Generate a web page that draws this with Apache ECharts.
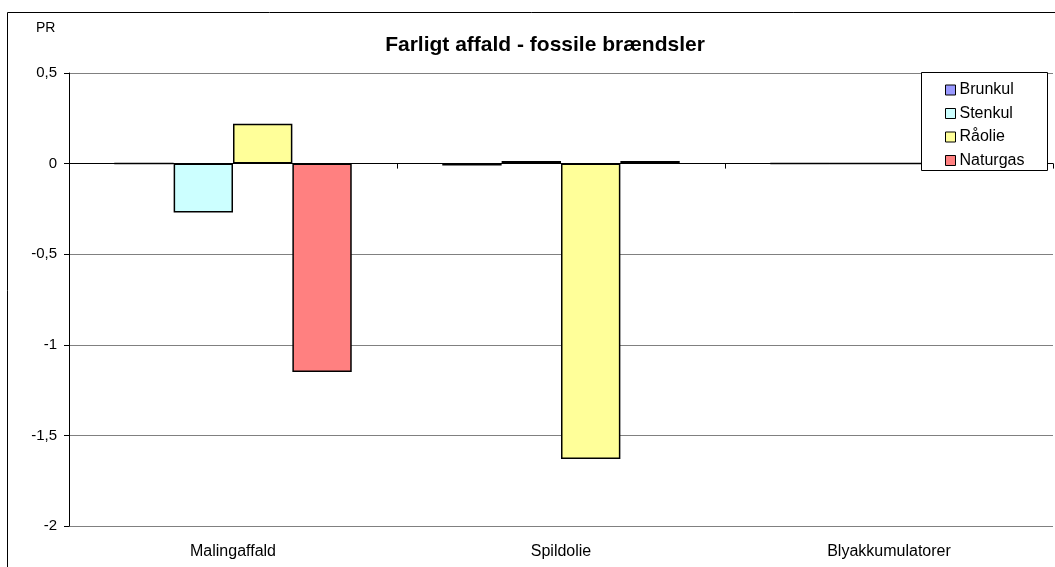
<!DOCTYPE html>
<html><head><meta charset="utf-8">
<script src="https://cdn.jsdelivr.net/npm/echarts@6/dist/echarts.min.js"></script>
<style>html,body{margin:0;padding:0;background:#fff}#c{width:1055px;height:567px}</style>
</head><body><div id="c"></div>
<script>
const categories = ['Malingaffald', 'Spildolie', 'Blyakkumulatorer'];
const seriesNames = ['Brunkul', 'Stenkul', 'Råolie', 'Naturgas'];
const brunkul = [0, -0.01, 0];
const stenkul = [-0.27, 0.015, 0];
const raolie = [0.22, -1.63, 0];
const naturgas = [-1.15, 0.015, 0];
const colors = ['#9999FF', '#CCFFFF', '#FFFF99', '#FF8080'];
const titleText = 'Farligt affald - fossile brændsler';
const yUnit = 'PR';

const font = 'Liberation Sans, Arial, sans-serif';
const values = [brunkul, stenkul, raolie, naturgas];
const chart = echarts.init(document.getElementById('c'));
chart.setOption({
  animation: false,
  title: { text: titleText, left: 540, top: 30, textAlign: 'center', z: 10,
    textStyle: { fontFamily: font, fontSize: 21, fontWeight: 'bold', color: '#000' } },
  legend: { orient: 'vertical', left: 940, top: 77, itemWidth: 10, itemHeight: 10, itemGap: 7.5,
    icon: 'rect', data: seriesNames, z: 60,
    itemStyle: { borderColor: '#000', borderWidth: 1 },
    textStyle: { fontFamily: font, fontSize: 16, color: '#000', lineHeight: 16, padding: [0,0,0,-1] } },
  graphic: [
    { type: 'rect', shape: { x: 7.5, y: 12.5, width: 1100, height: 600 }, style: { fill: null, stroke: '#000', lineWidth: 1 }, z: 100 },
    { type: 'rect', shape: { x: 921.5, y: 72.5, width: 126, height: 98 }, style: { fill: '#fff', stroke: '#000', lineWidth: 1 }, z: 50 },
    { type: 'text', left: 36, top: 21, style: { text: yUnit, font: '14px ' + font, fill: '#000' } }
  ],
  grid: { left: 69, right: 2, top: 73, bottom: 41, containLabel: false },
  xAxis: [
    { type: 'category', data: categories, position: 'bottom',
      axisLine: { show: false }, axisTick: { show: false },
      axisLabel: { fontFamily: font, fontSize: 16, color: '#000', margin: 18 } },
    { type: 'category', data: categories, position: 'bottom',
      axisLine: { show: true, onZero: true, onZeroAxisIndex: 0, lineStyle: { color: '#000', width: 1 } },
      axisTick: { show: true, length: 5, lineStyle: { color: '#000' } },
      axisLabel: { show: false } }
  ],
  yAxis: { type: 'value', min: -2, max: 0.5, interval: 0.5,
    axisLine: { show: true, onZero: false, lineStyle: { color: '#000' } },
    axisTick: { show: true, length: 5, lineStyle: { color: '#000' } },
    axisLabel: { fontFamily: font, fontSize: 15, color: '#000', margin: 12,
      formatter: v => String(v).replace('.', ',') },
    splitLine: { show: true, lineStyle: { color: '#808080', width: 1 } } },
  series: seriesNames.map((n, i) => ({
    name: n, type: 'bar', data: values[i], xAxisIndex: 0,
    barGap: '0%', barCategoryGap: '27.6%',
    itemStyle: { color: colors[i], borderColor: '#000', borderWidth: 1.5 }
  }))
});
</script></body></html>
